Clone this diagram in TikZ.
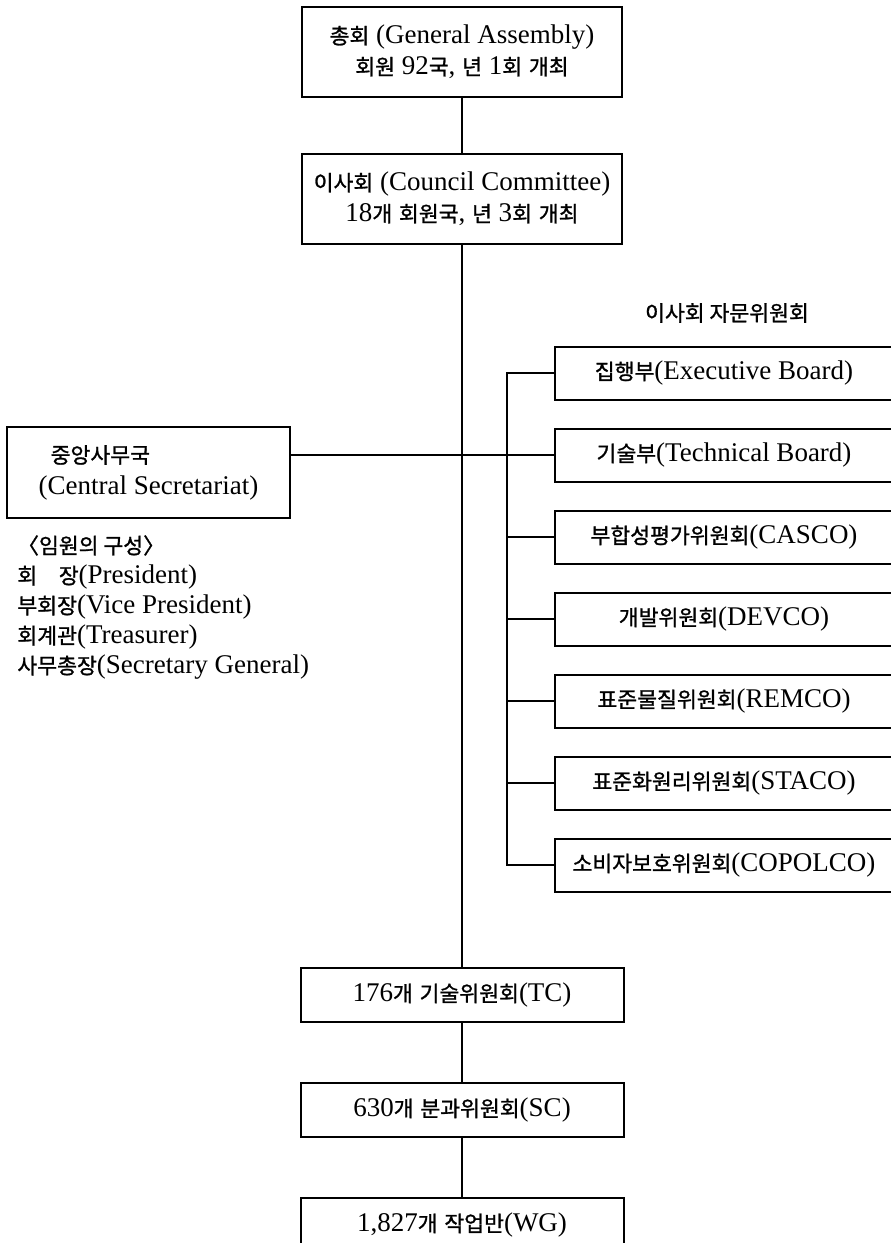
\documentclass[tikz,border=0pt]{standalone}
\usepackage{fontspec}
\setmainfont{Liberation Serif}
\newfontfamily\krfont{Noto Sans CJK KR}[Scale=0.8, FakeBold=1.2]
\newcommand{\ko}[1]{{\krfont #1}}
\usetikzlibrary{positioning}

\begin{document}
\begin{tikzpicture}[
  x=0.5pt, y=-0.5pt,
  node distance=13.5pt,
  font=\fontsize{13.5}{15.5}\selectfont,
  box/.style={rectangle, draw, line width=1pt, align=center, inner sep=2pt},
  mainbox/.style={box, minimum width=160pt, minimum height=45pt},
  unitbox/.style={box, minimum width=161.5pt, minimum height=27pt},
  advbox/.style={box, minimum width=169pt, minimum height=26.5pt},
  link/.style={line width=0.8pt},
]
\useasboundingbox (0,0) rectangle (890,1243);

%% --- General Assembly and Council ---
\node[mainbox] (ga) at (462,52) {\ko{총회} (General Assembly)\\\ko{회원} 92\ko{국}, \ko{년} 1\ko{회} \ko{개최}};
\node[mainbox, below=27.5pt of ga] (cc) {\ko{이사회} (Council Committee)\\18\ko{개} \ko{회원국}, \ko{년} 3\ko{회} \ko{개최}};

%% --- Central Secretariat (left) ---
\node[box, minimum width=141.5pt, minimum height=45.5pt, align=left] (sec) at (148.5,472.5) {\hspace*{6pt}\ko{중앙사무국}\\(Central Secretariat)};
\node[anchor=north west, align=left, inner sep=0pt, font=\fontsize{13.5}{15}\selectfont] (officers) at (17,535)
  {\ko{〈임원의 구성〉}\\\ko{회\hspace{1em}장}(President)\\\ko{부회장}(Vice President)\\\ko{회계관}(Treasurer)\\\ko{사무총장}(Secretary General)};

%% --- Advisory committees (right) ---
\node (advtitle) at (727,313) {\ko{이사회 자문위원회}};
\node[advbox] (exb) at (724,373) {\ko{집행부}(Executive Board)};
\node[advbox, below=of exb] (tcb) {\ko{기술부}(Technical Board)};
\node[advbox, below=of tcb] (cas) {\ko{부합성평가위원회}(CASCO)};
\node[advbox, below=of cas] (dev) {\ko{개발위원회}(DEVCO)};
\node[advbox, below=of dev] (rem) {\ko{표준물질위원회}(REMCO)};
\node[advbox, below=of rem] (sta) {\ko{표준화원리위원회}(STACO)};
\node[advbox, below=of sta] (cop) {\ko{소비자보호위원회}(COPOLCO)};

%% --- Technical bodies (bottom) ---
\node[unitbox] (tc) at (462,995) {176\ko{개} \ko{기술위원회}(TC)};
\node[unitbox, below=29.5pt of tc] (sc) {630\ko{개} \ko{분과위원회}(SC)};
\node[unitbox, below=29.5pt of sc] (wg) {1,827\ko{개} \ko{작업반}(WG)};

%% --- Connectors ---
\draw[link] (ga) -- (cc);
\draw[link] (cc) -- (tc);
\draw[link] (tc) -- (sc);
\draw[link] (sc) -- (wg);
\draw[link] (sec.east |- tcb.west) -- (tcb.west);
\draw[link] (exb.west) -- ++(-23.5pt,0) |- (cop.west);
\foreach \n in {tcb,cas,dev,rem,sta}
  \draw[link] (\n.west) -- ++(-23.5pt,0);

\end{tikzpicture}
\end{document}
